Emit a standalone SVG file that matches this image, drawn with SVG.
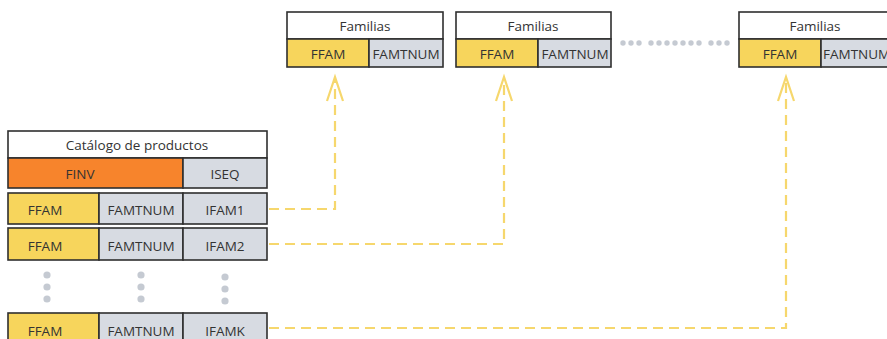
<svg xmlns="http://www.w3.org/2000/svg" width="887" height="339" viewBox="0 0 887 339">
<defs>
<style>
.box{stroke:#2f2f2f;stroke-width:1.6}
.w{fill:#ffffff}
.y{fill:#f7d55c}
.g{fill:#d7dbe2}
.o{fill:#f7842c}
text{font-family:"Open Sans","Noto Sans",sans-serif;font-size:13.5px;font-weight:500;fill:#333;text-anchor:middle;dominant-baseline:central}
.con{fill:none;stroke:#f6d76d;stroke-width:2.2;stroke-dasharray:10 6}
.arr{fill:none;stroke:#f6d76d;stroke-width:2.2}
.dot{fill:#c5cad2}
</style>
</defs>
<rect width="887" height="339" fill="#ffffff"/>
<g id="familias1">
<rect class="box w" x="287" y="12" width="156" height="27"/>
<rect class="box y" x="287" y="39" width="82" height="28"/>
<rect class="box g" x="369" y="39" width="74" height="28"/>
<text x="365" y="26">Familias</text>
<text x="328" y="54">FFAM</text>
<text x="406" y="54">FAMTNUM</text>
</g>
<g id="familias2">
<rect class="box w" x="456" y="12" width="155" height="27"/>
<rect class="box y" x="456" y="39" width="82" height="28"/>
<rect class="box g" x="538" y="39" width="73" height="28"/>
<text x="533" y="26">Familias</text>
<text x="497" y="54">FFAM</text>
<text x="575" y="54">FAMTNUM</text>
</g>
<g id="familias3">
<rect class="box w" x="739" y="12" width="160" height="27"/>
<rect class="box y" x="739" y="39" width="82" height="28"/>
<rect class="box g" x="821" y="39" width="78" height="28"/>
<text x="815" y="26">Familias</text>
<text x="780" y="54">FFAM</text>
<text x="823" y="54" style="text-anchor:start">FAMTNUM</text>
</g>
<g id="ellipsis-h">
<circle class="dot" cx="623" cy="43" r="2.7"/><circle class="dot" cx="631" cy="43" r="2.7"/><circle class="dot" cx="639" cy="43" r="2.7"/>
<circle class="dot" cx="651" cy="43" r="2.7"/><circle class="dot" cx="659" cy="43" r="2.7"/><circle class="dot" cx="667" cy="43" r="2.7"/><circle class="dot" cx="675" cy="43" r="2.7"/><circle class="dot" cx="683" cy="43" r="2.7"/><circle class="dot" cx="691" cy="43" r="2.7"/><circle class="dot" cx="699" cy="43" r="2.7"/>
<circle class="dot" cx="711" cy="43" r="2.7"/><circle class="dot" cx="719" cy="43" r="2.7"/><circle class="dot" cx="727" cy="43" r="2.7"/>
</g>
<g id="catalogo">
<rect class="box w" x="8" y="131" width="259" height="27"/>
<rect class="box o" x="8" y="158" width="175" height="30"/>
<rect class="box g" x="183" y="158" width="84" height="30"/>
<text x="137" y="145">Catálogo de productos</text>
<text x="80" y="174">FINV</text>
<text x="225" y="174">ISEQ</text>
</g>
<g id="fila1">
<rect class="box y" x="8" y="193" width="91" height="31"/>
<rect class="box g" x="99" y="193" width="84" height="31"/>
<rect class="box g" x="183" y="193" width="84" height="31"/>
<text x="45" y="210">FFAM</text>
<text x="141" y="210">FAMTNUM</text>
<text x="225" y="210">IFAM1</text>
</g>
<g id="fila2">
<rect class="box y" x="8" y="228" width="91" height="32"/>
<rect class="box g" x="99" y="228" width="84" height="32"/>
<rect class="box g" x="183" y="228" width="84" height="32"/>
<text x="45" y="246">FFAM</text>
<text x="141" y="246">FAMTNUM</text>
<text x="225" y="246">IFAM2</text>
</g>
<g id="ellipsis-v">
<circle class="dot" cx="47" cy="275" r="3.6"/><circle class="dot" cx="47" cy="287" r="3.6"/><circle class="dot" cx="47" cy="299" r="3.6"/>
<circle class="dot" cx="141" cy="275" r="3.6"/><circle class="dot" cx="141" cy="287" r="3.6"/><circle class="dot" cx="141" cy="299" r="3.6"/>
<circle class="dot" cx="225" cy="277" r="3.6"/><circle class="dot" cx="225" cy="289" r="3.6"/><circle class="dot" cx="225" cy="301" r="3.6"/>
</g>
<g id="filaK">
<rect class="box y" x="8" y="313" width="91" height="32"/>
<rect class="box g" x="99" y="313" width="84" height="32"/>
<rect class="box g" x="183" y="313" width="84" height="32"/>
<text x="45" y="331">FFAM</text>
<text x="141" y="331">FAMTNUM</text>
<text x="225" y="331">IFAMK</text>
</g>
<g id="connectors">
<path class="con" d="M269 209 H335 V80"/>
<path class="arr" d="M327 101 L335 77 L343 101"/>
<path class="con" d="M269 244 H504 V80"/>
<path class="arr" d="M496 101 L504 77 L512 101"/>
<path class="con" d="M269 328 H786 V80"/>
<path class="arr" d="M778 101 L786 77 L794 101"/>
</g>
</svg>
